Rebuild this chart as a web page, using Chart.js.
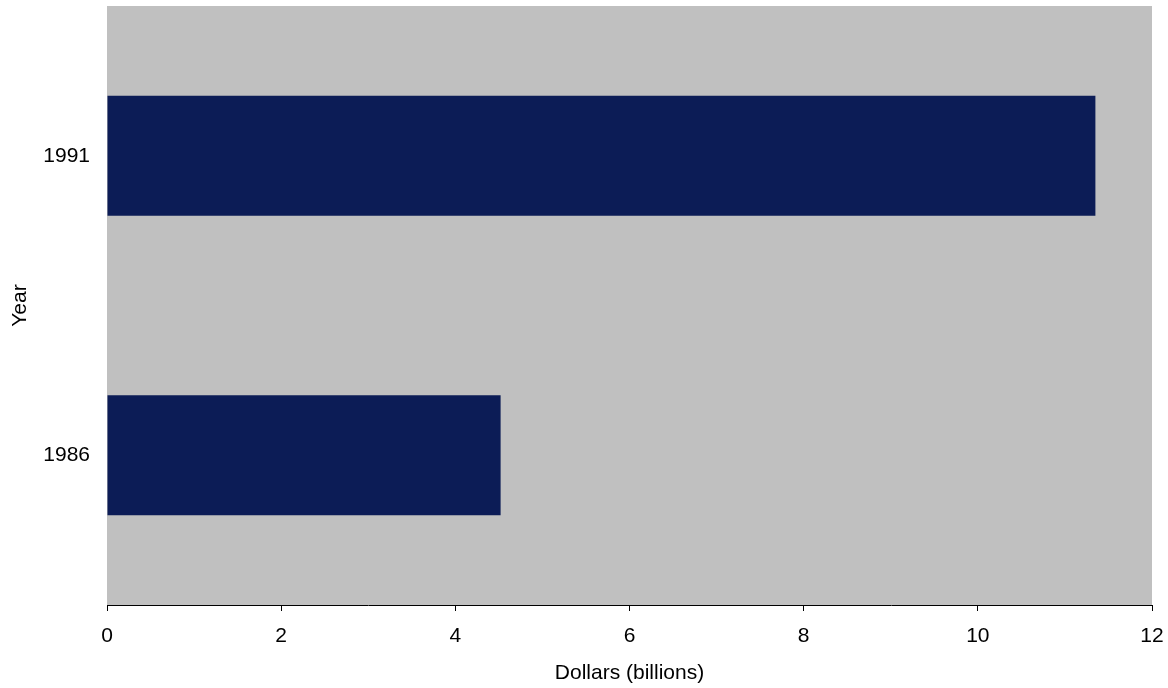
<!DOCTYPE html>
<html>
<head>
<meta charset="utf-8">
<script src="https://cdn.jsdelivr.net/npm/chart.js@4/dist/chart.umd.min.js"></script>
<style>
  html, body { margin: 0; padding: 0; background: #fff; }
  #wrap { width: 1168px; height: 688px; position: relative; }
</style>
</head>
<body>
<div id="wrap"><canvas id="chart"></canvas></div>
<script>
// data
const years = ['1991', '1986'];
const dollars = [11.35, 4.52];
const xTicks = [0, 2, 4, 6, 8, 10, 12];

// grey plot area behind the bars
const plotBackground = {
  id: 'plotBackground',
  beforeDraw(chart) {
    const { ctx, chartArea } = chart;
    ctx.save();
    ctx.fillStyle = '#C0C0C0';
    ctx.fillRect(chartArea.left, chartArea.top, chartArea.right - chartArea.left, chartArea.bottom - chartArea.top);
    ctx.restore();
  }
};

const font = { family: 'Arial, "Liberation Sans", sans-serif', size: 21 };

new Chart(document.getElementById('chart'), {
  type: 'bar',
  data: {
    labels: years,
    datasets: [{
      label: 'Dollars (billions)',
      data: dollars,
      backgroundColor: '#0C1C56',
      borderWidth: 0,
      barPercentage: 0.4,
      categoryPercentage: 1
    }]
  },
  options: {
    indexAxis: 'y',
    responsive: true,
    maintainAspectRatio: false,
    animation: false,
    layout: { padding: { top: 6, right: 16, left: 0, bottom: 0 } },
    plugins: {
      legend: { display: false },
      tooltip: { enabled: false }
    },
    scales: {
      x: {
        min: 0,
        max: 12,
        afterFit(scale) {
          scale.height = 83;
          scale.paddingLeft = 0;
          scale.paddingRight = 0;
        },
        afterBuildTicks(scale) { scale.ticks = xTicks.map(v => ({ value: v })); },
        grid: {
          drawOnChartArea: false,
          drawTicks: true,
          tickLength: 6,
          color: '#000'
        },
        border: { display: true, color: '#000', width: 1 },
        ticks: { color: '#000', font: font, padding: 13, maxRotation: 0 },
        title: {
          display: true,
          text: 'Dollars (billions)',
          color: '#000',
          font: font,
          padding: { top: 2, bottom: 2 }
        }
      },
      y: {
        afterFit(scale) {
          scale.width = 107;
          scale.paddingTop = 0;
          scale.paddingBottom = 0;
        },
        grid: { display: false },
        border: { display: false },
        ticks: { color: '#000', font: font, padding: 9 },
        title: {
          display: true,
          text: 'Year',
          color: '#000',
          font: font,
          padding: { top: 8, bottom: 0 }
        }
      }
    }
  },
  plugins: [plotBackground]
});
</script>
</body>
</html>
